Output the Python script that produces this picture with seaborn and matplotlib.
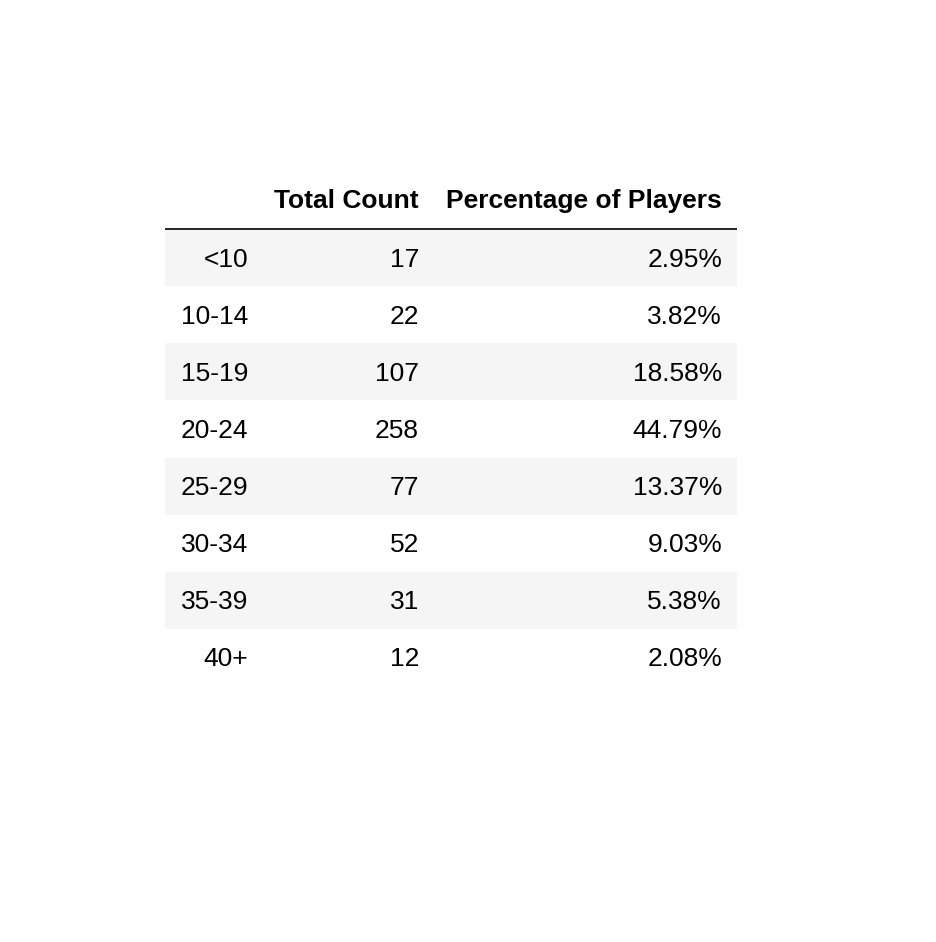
import matplotlib
matplotlib.use("Agg")
import matplotlib.pyplot as plt
from matplotlib.colors import ListedColormap
import seaborn as sns
import numpy as np
import pandas as pd

age_groups = ["<10", "10-14", "15-19", "20-24", "25-29", "30-34", "35-39", "40+"]
total_counts = [17, 22, 107, 258, 77, 52, 31, 12]
percentages = [2.95, 3.82, 18.58, 44.79, 13.37, 9.03, 5.38, 2.08]
columns = ["Total Count", "Percentage of Players"]

df = pd.DataFrame({columns[0]: total_counts, columns[1]: percentages}, index=age_groups)

sns.set_theme(style="white")
plt.rcParams["font.family"] = ["Liberation Sans", "DejaVu Sans"]

fig = plt.figure(figsize=(9.36, 9.42), dpi=100)
fig.patch.set_facecolor("white")
ax = fig.add_axes([165 / 936, (942 - 686) / 942, 572 / 936, 514 / 942])

band = np.array([[i % 2] for i in range(len(df))], dtype=float)
sns.heatmap(band, cmap=ListedColormap(["#f5f5f5", "#ffffff"]), cbar=False,
            xticklabels=False, yticklabels=False, ax=ax, vmin=0, vmax=1)
ax.set_ylim(len(df), -1)
ax.set_xlim(0, 1)
for s in ax.spines.values():
    s.set_visible(False)
ax.set_xlabel("")
ax.set_ylabel("")

fs = 19
x_idx, x_cnt, x_pct = 83 / 572, 254 / 572, 557 / 572
ax.text(x_cnt, -0.5, columns[0], ha="right", va="center", fontsize=fs, fontweight="bold", color="black")
ax.text(x_pct, -0.5, columns[1], ha="right", va="center", fontsize=fs, fontweight="bold", color="black")
ax.axhline(0, color="black", lw=1.2)

dy = 0.035
for i, (name, row) in enumerate(df.iterrows()):
    y = i + 0.5 + dy
    ax.text(x_idx, y, name, ha="right", va="center", fontsize=fs, color="black")
    ax.text(x_cnt, y, f"{int(row[columns[0]])}", ha="right", va="center", fontsize=fs, color="black")
    ax.text(x_pct, y, f"{row[columns[1]]:.2f}%", ha="right", va="center", fontsize=fs, color="black")

fig.savefig("out.png", dpi=100, facecolor="white")
